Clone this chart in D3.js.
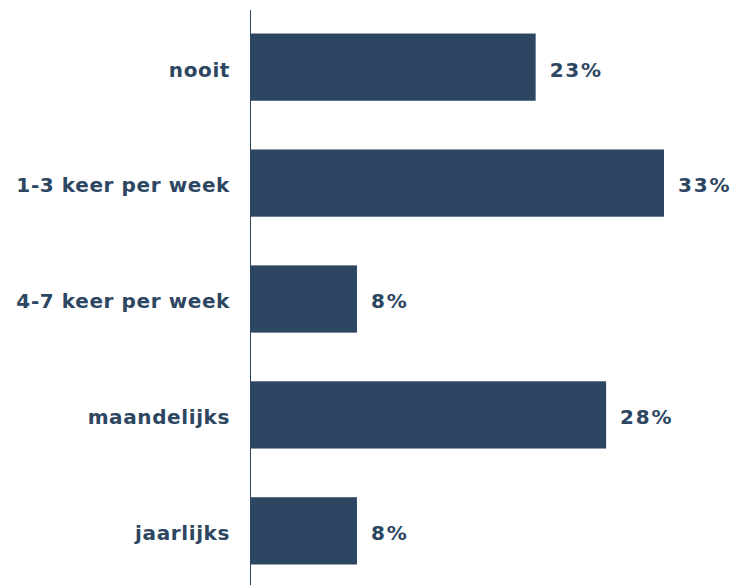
<!DOCTYPE html>
<html>
<head>
<meta charset="utf-8">
<script src="https://cdn.jsdelivr.net/npm/d3@7"></script>
<style>
    body { margin: 0; background: #fff; }
</style>
</head>
<body>
<div id="chart-container"></div>
<script>
const categories = ["nooit", "1-3 keer per week", "4-7 keer per week", "maandelijks", "jaarlijks"];
const values = [22.7, 32.9, 8.5, 28.3, 8.5];
const valueLabels = ["23%", "33%", "8%", "28%", "8%"];

const width = 741;
const height = 585;
const axisX = 250;
const color = "#2d4662";
const font = "'DejaVu Sans', Verdana, sans-serif";

const svg = d3.select("#chart-container")
    .append("svg")
    .attr("width", width)
    .attr("height", height);

const y = d3.scaleBand()
    .domain(categories)
    .range([11.5, 586.5])
    .paddingInner(0.42)
    .paddingOuter(0.19);

// 12.6 px per percent
const x = d3.scaleLinear()
    .domain([0, 32.9])
    .range([axisX, 664]);

const data = categories.map((c, i) => ({ cat: c, value: values[i], label: valueLabels[i] }));

// bars
svg.selectAll(".bar")
    .data(data)
    .enter()
    .append("rect")
    .attr("class", "bar")
    .attr("x", x(0))
    .attr("y", d => y(d.cat))
    .attr("width", d => x(d.value) - x(0))
    .attr("height", y.bandwidth())
    .attr("fill", color);

// value labels
svg.selectAll(".value")
    .data(data)
    .enter()
    .append("text")
    .attr("class", "value")
    .attr("x", d => x(d.value) + 14)
    .attr("y", d => y(d.cat) + y.bandwidth() / 2)
    .attr("dy", "0.47em")
    .attr("fill", color)
    .style("font-family", font)
    .style("font-weight", "bold")
    .style("font-size", "20px")
    .style("letter-spacing", "1.8px")
    .text(d => d.label);

// category axis
const yAxis = svg.append("g")
    .attr("transform", `translate(${axisX}, 0)`)
    .call(d3.axisLeft(y).tickSize(0).tickPadding(20));
yAxis.select(".domain").remove();
yAxis.selectAll(".tick text")
    .attr("dy", "0.47em")
    .attr("fill", color)
    .style("font-family", font)
    .style("font-weight", "bold")
    .style("font-size", "20px")
    .style("letter-spacing", "0.6px");

svg.append("line")
    .attr("x1", axisX + 0.5)
    .attr("x2", axisX + 0.5)
    .attr("y1", 10)
    .attr("y2", height)
    .attr("stroke", color)
    .attr("stroke-width", 1);
</script>
</body>
</html>
